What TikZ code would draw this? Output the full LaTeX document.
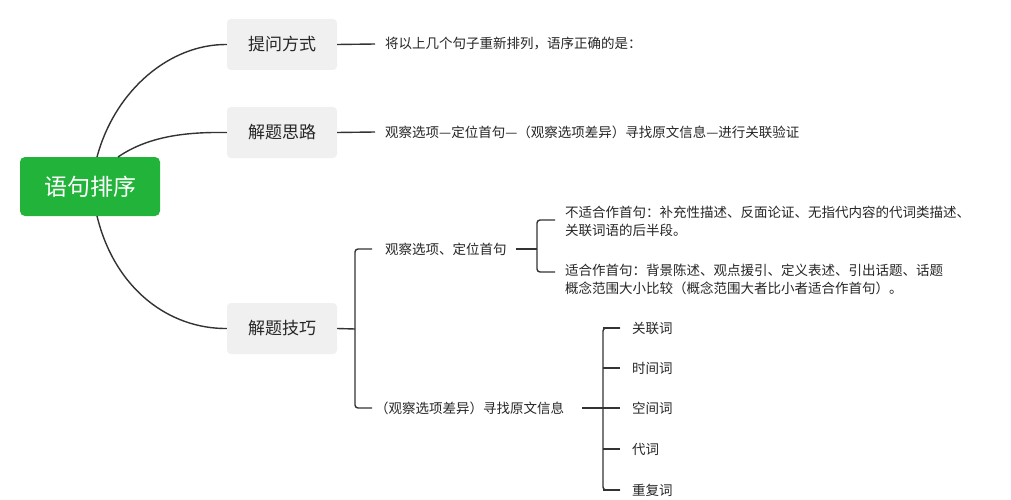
\documentclass[tikz,border=0pt]{standalone}
\usepackage{fontspec}
\setmainfont{Noto Sans CJK SC}
\begin{document}
\begin{tikzpicture}[x=1pt,y=-1pt,
  lvl/.style={fill=gray!12,rounded corners=4pt,minimum width=110pt,minimum height=51pt,font=\fontsize{17}{20}\selectfont,text=black!85},
  txt/.style={anchor=west,font=\fontsize{13.5}{18}\selectfont,text=black!85,inner sep=0pt,align=left},
  ln/.style={draw=black!80,line width=1.4pt}]
\useasboundingbox[fill=white] (0,0) rectangle (1011,500);
\node[fill={rgb,255:red,34;green,179;blue,58},rounded corners=5pt,minimum width=140pt,minimum height=59pt,text=white,font=\fontsize{23}{26}\selectfont] (root) at (90,186.5) {语句排序};
\node[lvl] (a) at (282,44.5) {提问方式};
\node[lvl] (b) at (282,132.5) {解题思路};
\node[lvl] (c) at (282,328.5) {解题技巧};
\coordinate (r1) at (97,157); \coordinate (r2) at (118,157); \coordinate (r3) at (97,216);
\draw[ln] (r1) .. controls (115,90) and (170,44) .. (a.west);
\draw[ln] (r2) .. controls (150,135) and (190,132) .. (b.west);
\draw[ln] (r3) .. controls (115,290) and (170,329) .. (c.west);
\node[txt] (at) at (385,44) {将以上几个句子重新排列，语序正确的是：};
\node[txt] (bt) at (385,132) {观察选项—定位首句—（观察选项差异）寻找原文信息—进行关联验证};
\coordinate (ae) at (375,44); \coordinate (be) at (375,132);
\draw[ln] (a.east) -- (ae);
\draw[ln] (b.east) -- (be);
\node[txt] (c1) at (385,249) {观察选项、定位首句};
\node[txt] (c2) at (375,408) {（观察选项差异）寻找原文信息};
\coordinate (cb) at (355,329);
\draw[ln] (c.east) -- (cb);
\draw[ln,rounded corners=3pt] (372,249) -- (355,249) -- (355,408) -- (372,408);
\node[txt] (d1) at (565,221.5) {不适合作首句：补充性描述、反面论证、无指代内容的代词类描述、\\关联词语的后半段。};
\node[txt] (d2) at (565,279) {适合作首句：背景陈述、观点援引、定义表述、引出话题、话题\\概念范围大小比较（概念范围大者比小者适合作首句）。};
\coordinate (da) at (516,249); \coordinate (db) at (537,249);
\draw[ln] (da) -- (db);
\draw[ln,rounded corners=3pt] (555,220) -- (537,220) -- (537,272) -- (555,272);
\coordinate (ea) at (582,408); \coordinate (eb) at (603,408);
\draw[ln] (ea) -- (eb);
\draw[ln,rounded corners=3pt] (620,328) -- (603,328) -- (603,490) -- (620,490);
\foreach \t/\y/\n in {关联词/328/e1,时间词/368/e2,空间词/408/e3,代词/449/e4,重复词/490/e5}{
  \node[txt] (\n) at (632,\y) {\t};
  \draw[ln] (603,\y) -- (620,\y);
}
\end{tikzpicture}
\end{document}
